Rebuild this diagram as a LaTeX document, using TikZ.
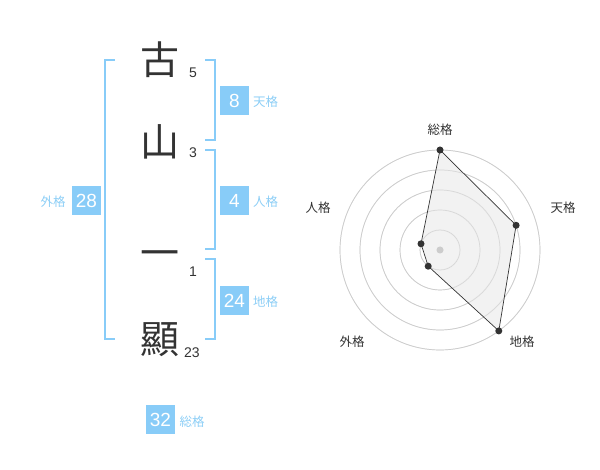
\documentclass[tikz,border=0pt]{standalone}
\usepackage{fontspec}
\setmainfont{Liberation Sans}
\newfontfamily\jp{Noto Sans CJK JP}
\definecolor{kblue}{RGB}{136,204,248}
\definecolor{klabel}{RGB}{140,206,246}
\definecolor{kdark}{RGB}{51,51,51}
\definecolor{kgrid}{RGB}{204,204,204}
\definecolor{kfill}{RGB}{240,240,240}
\begin{document}
\begin{tikzpicture}[x=1pt,y=-1pt,
  kanji/.style={font=\jp\fontsize{39}{39}\selectfont, text=kdark, inner sep=0pt, anchor=center},
  strokes/.style={font=\fontsize{14}{14}\selectfont, text=kdark, inner sep=0pt},
  valbox/.style={fill=kblue, text=white, minimum width=29pt, minimum height=29pt, inner sep=0pt, font=\fontsize{19}{19}\selectfont},
  vlabel/.style={font=\jp\fontsize{12.5}{12.5}\selectfont, text=klabel, inner sep=0pt},
  bracket/.style={draw=kblue, line width=2pt},
  rlabel/.style={font=\jp\fontsize{12.5}{12.5}\selectfont, text=kdark, inner sep=0pt},
  grid/.style={draw=kgrid, line width=0.7pt},
  dot/.style={circle, fill=kdark, inner sep=0pt, minimum size=7pt}
]
\useasboundingbox (0,0) rectangle (600,470);

% kanji
\node[kanji] (k1) at (160,60) {古};
\node[kanji] (k2) at (160,142) {山};
\node[kanji] (k3) at (160,259) {一};
\node[kanji] (k4) at (160,340) {顯};
\node[strokes] (s1) at (193,73) {5};
\node[strokes] (s2) at (193,153) {3};
\node[strokes] (s3) at (193,272) {1};
\node[strokes] (s4) at (192,353) {23};

% brackets
\draw[bracket] (115,60) -- (105,60) -- (105,339) -- (115,339);
\draw[bracket] (205,60) -- (215,60) -- (215,140) -- (205,140);
\draw[bracket] (205,150) -- (215,150) -- (215,249) -- (205,249);
\draw[bracket] (205,259) -- (215,259) -- (215,339) -- (205,339);

% value boxes
\node[valbox] (ten) at (234.5,100.5) {8};
\node[vlabel] (tenl) at (265.5,102) {天格};
\node[valbox] (jin) at (234.5,200.5) {4};
\node[vlabel] (jinl) at (265.5,202) {人格};
\node[valbox] (chi) at (234.5,300.5) {24};
\node[vlabel] (chil) at (265.5,302) {地格};
\node[valbox] (gai) at (86.5,200.5) {28};
\node[vlabel] (gail) at (53,202) {外格};
\node[valbox] (sou) at (160.5,419.5) {32};
\node[vlabel] (soul) at (192,422) {総格};

% radar
\coordinate (c) at (440,250);
\foreach \r in {20,40,60,80,100} \draw[grid] (c) circle (\r);
\fill[kgrid] (c) circle (3.5);
\coordinate (p1) at (440,150);
\coordinate (p2) at (516.1,225.3);
\coordinate (p3) at (498.8,330.9);
\coordinate (p4) at (428.2,266.2);
\coordinate (p5) at (421.0,243.8);
\fill[kfill, opacity=0.85] (p1) -- (p2) -- (p3) -- (p4) -- (p5) -- cycle;
\foreach \r in {20,40,60,80,100} \draw[grid, opacity=0.6] (c) circle (\r);
\fill[kgrid] (c) circle (3.5);
\draw[kdark, line width=0.7pt] (p1) -- (p2) -- (p3) -- (p4) -- (p5) -- cycle;
\foreach \p in {p1,p2,p3,p4,p5} \node[dot] at (\p) {};
\node[rlabel] (l1) at (440,130) {総格};
\node[rlabel] (l2) at (563,208) {天格};
\node[rlabel] (l3) at (522,342) {地格};
\node[rlabel] (l4) at (352,342) {外格};
\node[rlabel] (l5) at (318,208) {人格};
\end{tikzpicture}
\end{document}
